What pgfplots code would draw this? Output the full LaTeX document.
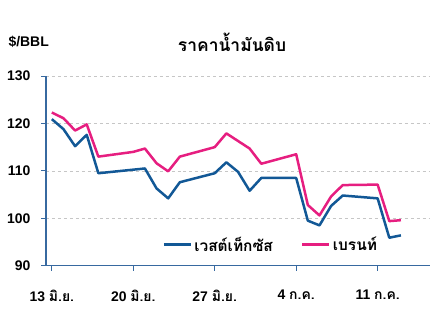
\documentclass[border=0pt]{standalone}
\usepackage{fontspec}
\setmainfont{Liberation Sans}
\newfontfamily\thai[Script=Thai]{Loma}
\usepackage{pgfplots}
\pgfplotsset{compat=1.18}
\definecolor{wti}{RGB}{18,88,150}
\definecolor{brent}{RGB}{230,30,128}
\definecolor{axc}{RGB}{55,105,160}
\begin{document}
\begin{tikzpicture}[x=1bp,y=1bp]
\useasboundingbox (0,0) rectangle (437,312);
\begin{axis}[
  at={(46bp,46.3bp)}, anchor=south west,
  scale only axis, width=384bp, height=189.7bp,
  xmin=12.5, xmax=45.5, ymin=90, ymax=130,
  axis x line*=bottom, axis y line*=left,
  axis line style={-, axc, line width=1.2pt},
  xtick={13,20,27,34,41},
  xticklabels={{13 \thai มิ.ย.},{20 \thai มิ.ย.},{27 \thai มิ.ย.},{4 \thai ก.ค.},{11 \thai ก.ค.}},
  ytick={90,100,110,120,130},
  ymajorgrids, grid style={dashed, gray!45, line width=0.5pt},
  tick style={axc, line width=1pt}, major tick length=5bp, tick align=outside,
  /pgf/number format/assume math mode=true,
  ticklabel style={font=\bfseries\fontsize{14}{14}\selectfont},
  xticklabel style={yshift=-16bp},
  yticklabel style={xshift=-7bp},
  legend style={at={(0.585,0.11)}, anchor=center, draw=none, fill=none,
    legend columns=2, font=\thai\bfseries\fontsize{15.5}{15.5}\selectfont,
    /tikz/every even column/.append style={column sep=26bp}},
  legend image code/.code={\draw[#1, line width=3bp] (0,0) -- (27bp,0);},
]
\addplot[wti, line width=2.5bp, line join=round] coordinates {
(13,120.9) (14,118.8) (15,115.2) (16,117.6) (17,109.5) (21,110.5) (22,106.3)
(23,104.2) (24,107.6) (27,109.5) (28,111.8) (29,109.8) (30,105.8) (31,108.5)
(34,108.5) (35,99.5) (36,98.5) (37,102.6) (38,104.8) (41,104.2) (42,95.9) (43,96.4)};
\addlegendentry{เวสต์เท็กซัส}
\addplot[brent, line width=2.5bp, line join=round] coordinates {
(13,122.3) (14,121.1) (15,118.5) (16,119.8) (17,113.0) (20,114.0) (21,114.7)
(22,111.6) (23,109.9) (24,113.0) (27,115.0) (28,117.9) (29,116.3) (30,114.7)
(31,111.5) (34,113.5) (35,102.8) (36,100.6) (37,104.6) (38,107.0) (41,107.1)
(42,99.4) (43,99.6)};
\addlegendentry{เบรนท์}
\end{axis}
\node at (232,270) {\thai\bfseries\fontsize{17.5}{17.5}\selectfont ราคาน้ำมันดิบ};
\node[anchor=west] at (5,270) {\bfseries\fontsize{14}{14}\selectfont \$/BBL};
\end{tikzpicture}
\end{document}
